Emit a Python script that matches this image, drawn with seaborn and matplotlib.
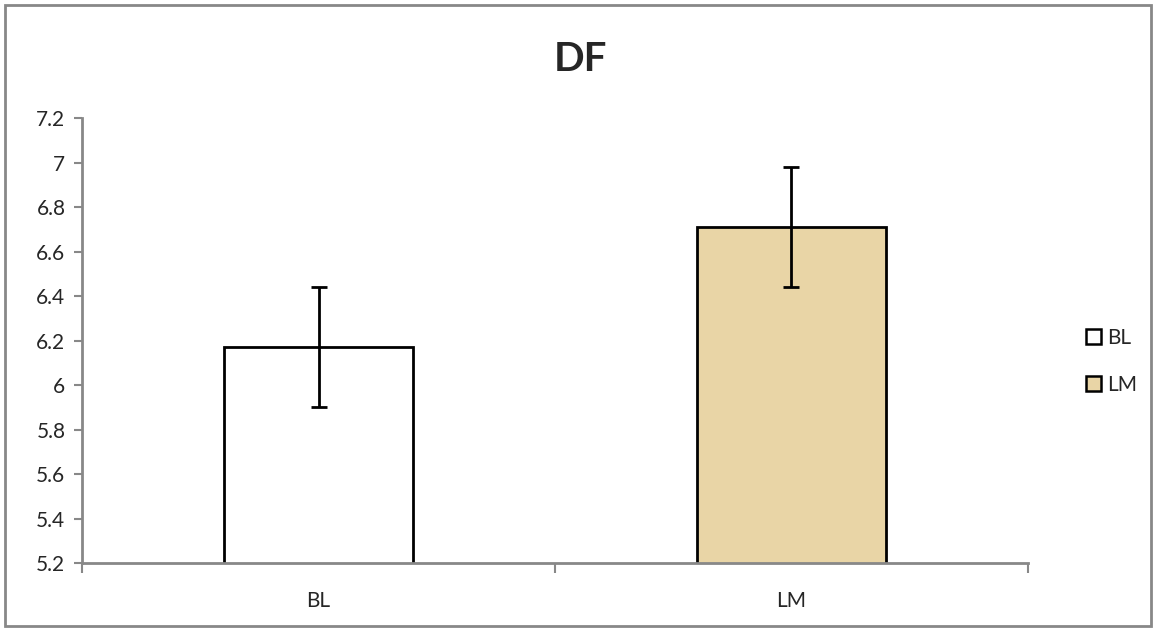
import matplotlib
matplotlib.use("Agg")
import matplotlib.pyplot as plt
import matplotlib.patches as mpatches
from matplotlib.ticker import FuncFormatter, FixedLocator
import seaborn as sns

# data
groups = ["BL", "LM"]
means = [6.17, 6.71]
errors = [0.27, 0.27]
colors = ["#FFFFFF", "#E9D5A6"]

sns.set_style("white")
plt.rcParams['font.family'] = ['Lato', 'DejaVu Sans']

fig = plt.figure(figsize=(11.54, 6.28), dpi=100)
ax = fig.add_axes([0.0711, 0.1035, 0.8197, 0.7085])

sns.barplot(x=groups, y=means, hue=groups, palette=colors, width=0.4,
            saturation=1, edgecolor="black", linewidth=2, legend=False, ax=ax)
ax.errorbar(range(len(groups)), means, yerr=errors, fmt="none",
            ecolor="black", elinewidth=2, capsize=6, capthick=2)

ax.set_ylim(5.2, 7.2)
ax.set_xlim(-0.5, 1.5)
ax.set_yticks([5.2 + 0.2 * i for i in range(11)])
ax.yaxis.set_major_formatter(FuncFormatter(lambda v, p: f"{round(v, 1):g}"))
ax.tick_params(axis="y", which="major", direction="out", length=6, width=1.5,
               color="#888888", labelsize=15, pad=6, left=True)
ax.tick_params(axis="x", which="major", length=0, labelsize=15, pad=20)
ax.xaxis.set_minor_locator(FixedLocator([-0.5, 0.5, 1.5]))
ax.tick_params(axis="x", which="minor", direction="out", length=7, width=1.5,
               color="#888888", bottom=True)
ax.set_xlabel("")
ax.set_ylabel("")
for s in ["top", "right"]:
    ax.spines[s].set_visible(False)
for s in ["left", "bottom"]:
    ax.spines[s].set_color("#888888")
    ax.spines[s].set_linewidth(2)

fig.text(0.503, 0.905, "DF", ha="center", va="center", fontsize=29,
         fontweight="bold")

handles = [mpatches.Patch(facecolor=c, edgecolor="black", linewidth=1.8, label=g)
           for g, c in zip(groups, colors)]
fig.legend(handles=handles, loc="center left", bbox_to_anchor=(0.925, 0.425),
           frameon=False, fontsize=15, handlelength=0.7, handleheight=0.7,
           handletextpad=0.3, labelspacing=1.3)

fig.patches.append(mpatches.Rectangle((0.004, 0.003), 0.993, 0.989,
                                      transform=fig.transFigure, fill=False,
                                      edgecolor="#888888", linewidth=2))

fig.savefig("out.png", dpi=100)
